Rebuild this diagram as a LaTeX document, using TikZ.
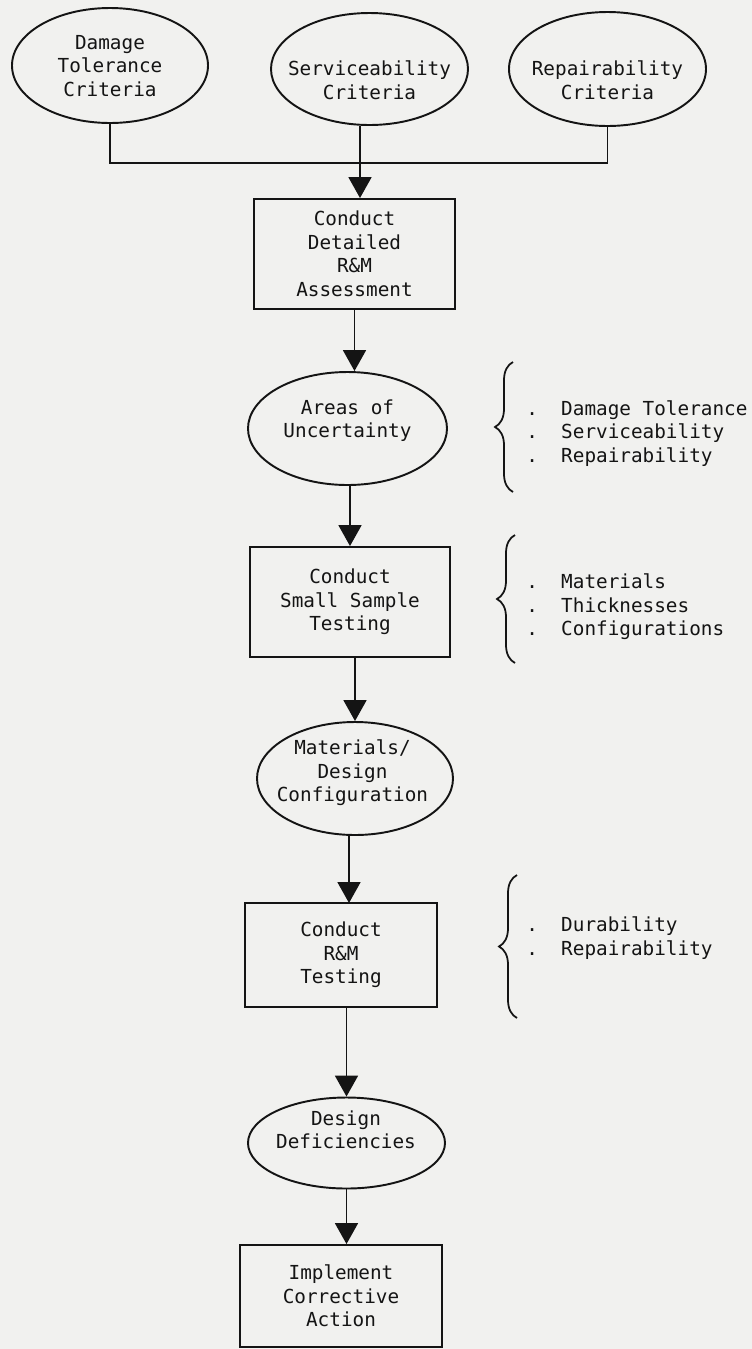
\documentclass[tikz,border=0pt]{standalone}
\usepackage{fontspec}
\setmonofont{DejaVu Sans Mono}
\usepackage{tikz}
\usetikzlibrary{arrows.meta,shapes,decorations.pathreplacing}
\definecolor{papier}{rgb}{0.945,0.945,0.937}
\definecolor{tinte}{rgb}{0.08,0.08,0.08}
\newcommand{\typewriter}{\ttfamily\fontsize{11pt}{13.4pt}\selectfont}
\newcommand{\dotitem}{\makebox[1.806em][l]{.}}
\tikzstyle{result} = [line width=1.1pt,draw=tinte,ellipse]
\tikzstyle{caption} = [align=center,font=\typewriter,text=tinte]
\tikzstyle{activity} = [line width=1.1pt,draw=tinte,rectangle,align=center,font=\typewriter,text=tinte]
\tikzstyle{aspects} = [anchor=west,inner sep=0pt,align=left,font=\typewriter,text=tinte]
\tikzstyle{link} = [line width=1.1pt,draw=tinte]
\tikzstyle{flow} = [link,-{Triangle[length=4.2mm,width=4.6mm]}]
\tikzstyle{bracket} = [line width=1pt,draw=tinte,decorate,decoration={brace,amplitude=0.36cm}]

\begin{document}
\begin{tikzpicture}
\fill[papier] (0,0) rectangle (15.04,-26.98);
\useasboundingbox (0,0) rectangle (15.04,-26.98);

\node[result,minimum width=3.92cm,minimum height=2.30cm] (DT) at (2.20,-1.31) {};
\node[caption] (DTtext) at (2.20,-1.32) {
	Damage\\Tolerance\\Criteria
};

\node[result,minimum width=3.94cm,minimum height=2.24cm] (SV) at (7.39,-1.38) {};
\node[caption] (SVtext) at (7.39,-1.60) {
	Serviceability\\Criteria
};

\node[result,minimum width=3.94cm,minimum height=2.28cm] (RP) at (12.15,-1.38) {};
\node[caption] (RPtext) at (12.15,-1.60) {
	Repairability\\Criteria
};

\coordinate (J) at (7.20,-3.26);
\draw[link] (DT.south) -- (DT.south |- J) -- (RP.south |- J) -- (RP.south);

\node[activity,minimum width=4.02cm,minimum height=2.20cm] (CA) at (7.09,-5.08) {
	Conduct\\Detailed\\R\&M\\Assessment
};
\draw[flow] (J |- SV.south) -- (J |- CA.north);

\node[result,minimum width=3.98cm,minimum height=2.26cm] (AU) at (6.95,-8.57) {};
\node[caption] (AUtext) at (6.95,-8.41) {
	Areas of\\Uncertainty
};
\draw[flow] (CA.south) -- (CA.south |- AU.north);

\draw[bracket] (10.26,-9.84) -- (10.26,-7.24);
\node[aspects] (AUlist) at (10.52,-8.67) {
	\dotitem Damage Tolerance\\\dotitem Serviceability\\\dotitem Repairability
};

\node[activity,minimum width=4.00cm,minimum height=2.20cm] (ST) at (7.00,-12.04) {
	Conduct\\Small Sample\\Testing
};
\draw[flow] (ST.north |- AU.south) -- (ST.north);

\draw[bracket] (10.30,-13.26) -- (10.30,-10.70);
\node[aspects] (STlist) at (10.52,-12.14) {
	\dotitem Materials\\\dotitem Thicknesses\\\dotitem Configurations
};

\node[result,minimum width=3.92cm,minimum height=2.26cm] (MC) at (7.10,-15.57) {};
\node[caption] (MCtext) at (7.05,-15.46) {
	Materials/\\Design\\Configuration
};
\draw[flow] (MC.north |- ST.south) -- (MC.north);

\node[activity,minimum width=3.84cm,minimum height=2.08cm] (RT) at (6.82,-19.10) {
	Conduct\\R\&M\\Testing
};
\draw[flow] (6.98,-16.70) -- (6.98,-18.06);

\draw[bracket] (10.34,-20.36) -- (10.34,-17.50);
\node[aspects] (RTlist) at (10.52,-18.76) {
	\dotitem Durability\\\dotitem Repairability
};

\node[result,minimum width=3.94cm,minimum height=1.82cm] (DD) at (6.93,-22.86) {};
\node[caption] (DDtext) at (6.92,-22.60) {
	Design\\Deficiencies
};
\draw[flow] (DD.north |- RT.south) -- (DD.north);

\node[activity,minimum width=4.04cm,minimum height=2.04cm] (IA) at (6.82,-25.92) {
	Implement\\Corrective\\Action
};
\draw[flow] (DD.south) -- (DD.south |- IA.north);
\end{tikzpicture}
\end{document}
